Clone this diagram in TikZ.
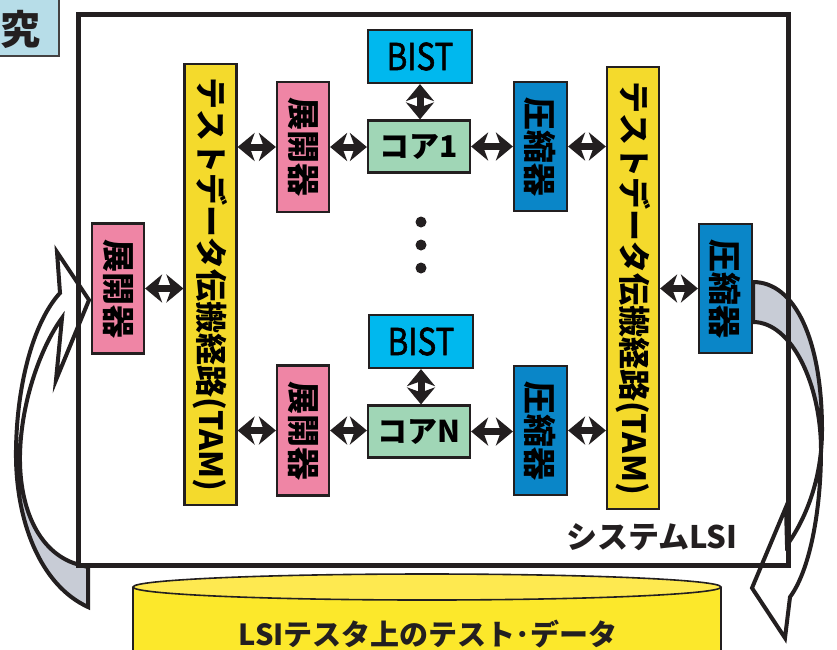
\documentclass[tikz,border=0pt]{standalone}
\usepackage{fontspec}
\newfontfamily\jp{Noto Sans CJK JP}
\newfontfamily\jpmed[FakeBold=1.6]{Noto Sans CJK JP}
\usetikzlibrary{arrows.meta}
\definecolor{ink}{RGB}{35,31,32}
\definecolor{tamyel}{RGB}{244,218,44}
\definecolor{exppink}{RGB}{239,133,165}
\definecolor{cmpblue}{RGB}{10,134,200}
\definecolor{bistcyan}{RGB}{0,184,238}
\definecolor{coregreen}{RGB}{160,214,182}
\definecolor{kyublue}{RGB}{183,221,232}
\definecolor{cylfill}{RGB}{252,232,43}
\definecolor{cyltop}{RGB}{254,233,80}
\definecolor{ribgray}{RGB}{200,204,214}
\begin{document}
\begin{tikzpicture}[x=1pt,y=-1pt,
  box/.style={draw=ink, line width=2.2pt, inner sep=0pt, font=\jp\bfseries\fontsize{33}{33}\selectfont},
  tambox/.style={box, fill=tamyel, minimum width=52pt, font=\jp\bfseries\fontsize{32}{32}\selectfont},
  expbox/.style={box, fill=exppink, minimum width=52pt, minimum height=130pt},
  cmpbox/.style={box, fill=cmpblue, minimum width=53pt, minimum height=129pt},
  bistbox/.style={box, fill=bistcyan, minimum width=104pt, minimum height=53pt, font=\jpmed\fontsize{37}{37}\selectfont},
  corebox/.style={box, fill=coregreen, minimum width=102pt, minimum height=52pt, font=\jp\bfseries\fontsize{30}{30}\selectfont},
  biarrow/.style={draw=ink, line width=7pt, {Stealth[length=17pt,width=28pt,inset=5pt]}-{Stealth[length=17pt,width=28pt,inset=5pt]}},
  ribbon/.style={draw=ink, line width=4pt, line join=miter},
  label/.style={inner sep=0pt, font=\jp\bfseries\fontsize{31}{31}\selectfont, text=ink}
]
\useasboundingbox (0,0) rectangle (837,649);
\clip (0,0) rectangle (837,649);

% caption box
\draw[draw=ink!85, line width=2.2pt, fill=kyublue] (-10,-10) rectangle (59,56);
\node[label, font=\jp\bfseries\fontsize{40}{40}\selectfont] (kyu) at (20,29) {究};

% left ribbon arrow
\def\leftrib{(88,607) .. controls (40,585) and (15,520) .. (16,450) .. controls (17,380) and (35,320) .. (60,293) -- (57,252) -- (89,300) -- (56,380) -- (62,318) .. controls (42,345) and (21,400) .. (20,455) .. controls (19,510) and (40,555) .. (80,565) -- (88,567) -- cycle}
\fill[white] \leftrib;
\begin{scope}
  \clip (0,466) rectangle (100,640);
  \fill[ribgray] \leftrib;
\end{scope}
\draw[ribbon] \leftrib;

% right ribbon arrow
\def\rightrib{(753,282) .. controls (795,282) and (822,340) .. (822,430) .. controls (822,480) and (805,520) .. (787,545) -- (786,507) -- (752,588) -- (785,638) -- (790,597) .. controls (810,570) and (821,510) .. (821,450) .. controls (821,385) and (792,322) .. (753,322) -- cycle}
\fill[white] \rightrib;
\begin{scope}
  \clip (740,270) rectangle (837,440);
  \fill[ribgray] \rightrib;
\end{scope}
\draw[ribbon] \rightrib;

% system frame
\draw[ink, line width=5pt] (78,14) rectangle (788,565);

% tester cylinder
\fill[cylfill] (133,587) rectangle (721,665);
\draw[ink, line width=1.6pt] (133,587) -- (133,665) (721,587) -- (721,665);
\draw[ink, line width=1.6pt, fill=cyltop] (427,587) ellipse [x radius=294, y radius=13];
\node[label, font=\jp\bfseries\fontsize{29}{29}\selectfont] (tester) at (428,634) {LSIテスタ上のテスト･データ};

% system label
\node[label] (syslsi) at (652,537) {システムLSI};

% boxes
\node[tambox, minimum height=441pt] (tamL) at (210.5,284.5) {\rotatebox[origin=c]{-90}{テストデータ伝搬経路(TAM)}};
\node[tambox, minimum height=442pt] (tamR) at (633,288) {\rotatebox[origin=c]{-90}{テストデータ伝搬経路(TAM)}};
\node[expbox] (eU) at (303,147) {\rotatebox[origin=c]{-90}{展開器}};
\node[expbox] (eD) at (303,430.5) {\rotatebox[origin=c]{-90}{展開器}};
\node[expbox] (eL) at (118,288.5) {\rotatebox[origin=c]{-90}{展開器}};
\node[cmpbox] (cU) at (540.5,146.5) {\rotatebox[origin=c]{-90}{圧縮器}};
\node[cmpbox] (cD) at (540.5,430.5) {\rotatebox[origin=c]{-90}{圧縮器}};
\node[cmpbox] (cR) at (725.5,288.5) {\rotatebox[origin=c]{-90}{圧縮器}};
\node[bistbox] (b1) at (420,56.5) {\scalebox{0.85}[1]{BIST}};
\node[bistbox] (b2) at (421,341.5) {\scalebox{0.85}[1]{BIST}};
\node[corebox] (k1) at (419,146.5) {コア1};
\node[corebox] (kN) at (419,431.5) {コアN};

% dots
\fill[ink] (421,222) circle (5.5) (421,245) circle (5.5) (421,268) circle (5.5);

% connectors
\draw[biarrow] (eU.west -| tamL.east) -- (eU.west);
\draw[biarrow] (eU.east) -- (k1.west |- eU.east);
\draw[biarrow] (k1.east) -- (cU.west |- k1.east);
\draw[biarrow] (cU.east) -- (cU.east -| tamR.west);
\draw[biarrow] (eD.west -| tamL.east) -- (eD.west);
\draw[biarrow] (eD.east) -- (kN.west |- eD.east);
\draw[biarrow] (kN.east) -- (cD.west |- kN.east);
\draw[biarrow] (cD.east) -- (cD.east -| tamR.west);
\draw[biarrow] (eL.east) -- (eL.east -| tamL.west);
\draw[biarrow] (cR.west -| tamR.east) -- (cR.west);
\draw[biarrow] (b1.south) -- (b1.south |- k1.north);
\draw[biarrow] (b2.south) -- (b2.south |- kN.north);
\end{tikzpicture}
\end{document}
